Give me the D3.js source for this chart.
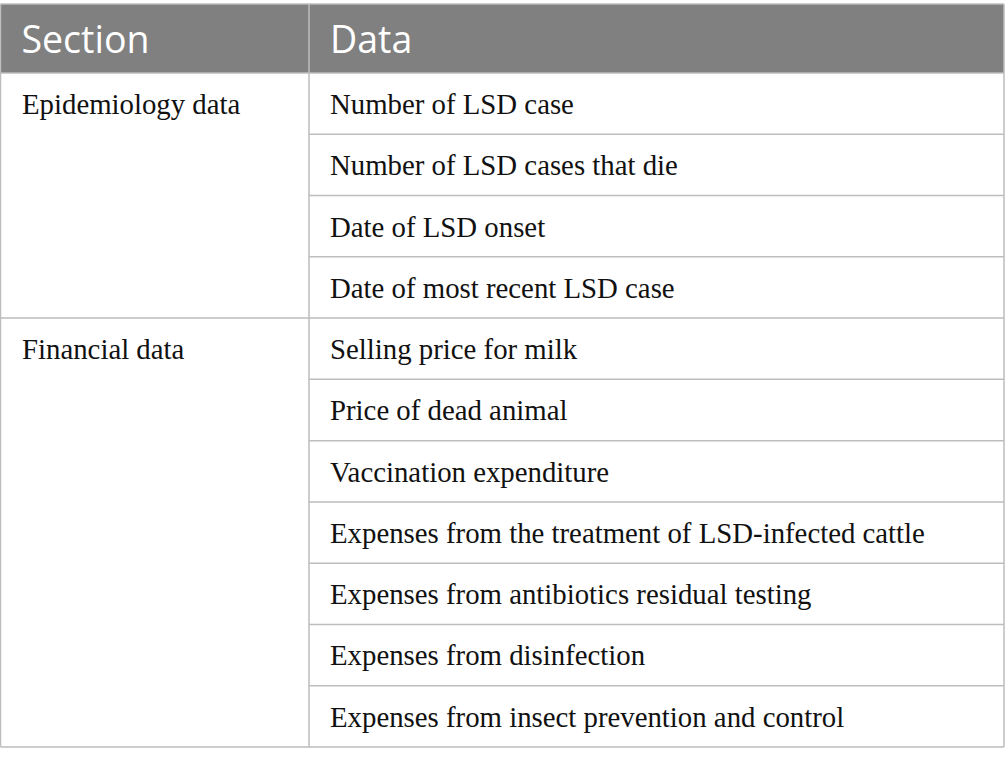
<!DOCTYPE html>
<html>
<head>
<meta charset="utf-8">
<script src="https://cdn.jsdelivr.net/npm/d3@7"></script>
<style>
  body { margin: 0; background: #fff; }
</style>
</head>
<body>
<div id="chart"></div>
<script>
// table content
const headers = ["Section", "Data"];
const sections = ["Epidemiology data", "Financial data"];
const epidemiologyItems = [
  "Number of LSD case",
  "Number of LSD cases that die",
  "Date of LSD onset",
  "Date of most recent LSD case"
];
const financialItems = [
  "Selling price for milk",
  "Price of dead animal",
  "Vaccination expenditure",
  "Expenses from the treatment of LSD-infected cattle",
  "Expenses from antibiotics residual testing",
  "Expenses from disinfection",
  "Expenses from insect prevention and control"
];

const width = 1005, height = 766;
const tableTop = 4, headH = 69, tableLeft = 0.5, tableRight = 1004, split = 309, tableBottom = 747;

const rows = [];
sections.forEach((s, si) => {
  const items = si === 0 ? epidemiologyItems : financialItems;
  items.forEach((d, i) => rows.push({ section: s, first: i === 0, text: d }));
});

const svg = d3.select("#chart").append("svg")
  .attr("width", width)
  .attr("height", height);

const y = d3.scaleBand()
  .domain(d3.range(rows.length))
  .range([tableTop + headH, tableBottom]);

const x = d3.scaleOrdinal().domain(headers).range([tableLeft, split]);

// header
svg.append("rect")
  .attr("x", tableLeft).attr("y", tableTop)
  .attr("width", tableRight - tableLeft).attr("height", headH)
  .attr("fill", "#808080");

svg.selectAll(".htext")
  .data(headers)
  .enter().append("text")
  .attr("x", d => x(d) + 21)
  .attr("y", tableTop + 49)
  .attr("fill", "#fff")
  .attr("font-family", "'Open Sans', sans-serif")
  .attr("font-size", 37.5)
  .text(d => d);

// body text
const bodyFont = 28.8;
svg.selectAll(".sec")
  .data(rows.filter(r => r.first))
  .enter().append("text")
  .attr("x", 22)
  .attr("y", d => y(rows.indexOf(d)) + 41)
  .attr("fill", "#111")
  .attr("font-family", "'Liberation Serif', serif")
  .attr("font-size", bodyFont)
  .text(d => d.section);

svg.selectAll(".item")
  .data(rows)
  .enter().append("text")
  .attr("x", split + 21)
  .attr("y", (d, i) => y(i) + 41)
  .attr("fill", "#111")
  .attr("font-family", "'Liberation Serif', serif")
  .attr("font-size", bodyFont)
  .text(d => d.text);

// grid lines
const lineColor = "#bdbdbd";
const g = svg.append("g").attr("stroke", lineColor).attr("stroke-width", 1.5);

// row separators in data column, full width at section change
g.selectAll(".rline")
  .data(d3.range(1, rows.length))
  .enter().append("line")
  .attr("x1", d => rows[d].first ? tableLeft : split)
  .attr("x2", tableRight)
  .attr("y1", d => y(d))
  .attr("y2", d => y(d));

// outline and column split
[tableTop, tableTop + headH, tableBottom].forEach(v =>
  g.append("line").attr("x1", tableLeft).attr("x2", tableRight).attr("y1", v).attr("y2", v));
[tableLeft, split, tableRight].forEach(v =>
  g.append("line").attr("x1", v).attr("x2", v).attr("y1", tableTop).attr("y2", tableBottom));
</script>
</body>
</html>
